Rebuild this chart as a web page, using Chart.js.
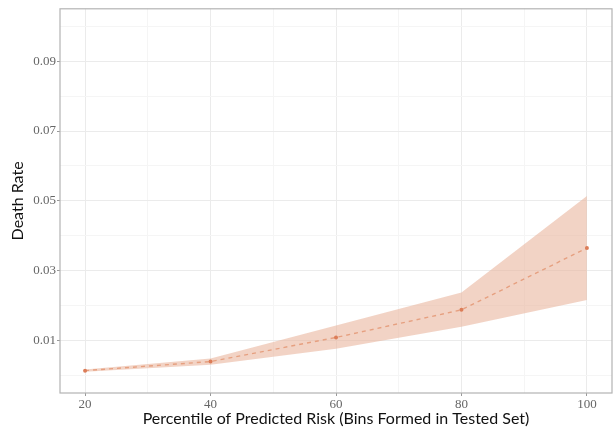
<!DOCTYPE html>
<html>
<head>
<meta charset="utf-8">
<script src="https://cdn.jsdelivr.net/npm/chart.js@4"></script>
<style>
  html, body { margin: 0; padding: 0; background: #fff; }
  #wrap { width: 616px; height: 428px; }
</style>
</head>
<body>
<div id="wrap"><canvas id="riskChart"></canvas></div>
<script>
const percentiles = [20, 40, 60, 80, 100];
const deathRate = [0.0014, 0.0040, 0.0109, 0.0188, 0.0365];
const upperCI = [0.0017, 0.0049, 0.0143, 0.0238, 0.0514];
const lowerCI = [0.0011, 0.0031, 0.0077, 0.0140, 0.0216];
const xTicks = [20, 30, 40, 50, 60, 70, 80, 90, 100];
const yTicks = [0, 0.01, 0.02, 0.03, 0.04, 0.05, 0.06, 0.07, 0.08, 0.09, 0.1];

const toPoints = vals => percentiles.map((p, i) => ({ x: p, y: vals[i] }));

const tickFont = { family: 'Liberation Serif', size: 13 };
const titleFont = { family: 'Lato', size: 16 };

// panel border all round the plot area
const frame = {
  id: 'frame',
  afterDraw(chart) {
    const { ctx, chartArea: a } = chart;
    ctx.save();
    ctx.strokeStyle = '#b3b3b3';
    ctx.lineWidth = 1.2;
    ctx.strokeRect(a.left, a.top, a.right - a.left, a.bottom - a.top);
    ctx.restore();
  }
};

const isMajorY = v => Math.round(v * 100) % 2 === 1;
const isMajorX = v => v % 20 === 0;

new Chart(document.getElementById('riskChart'), {
  type: 'scatter',
  data: {
    datasets: [
      {
        data: toPoints(deathRate),
        showLine: true,
        borderColor: '#e6a080',
        borderWidth: 1.4,
        borderDash: [4, 4],
        pointRadius: 2,
        pointBackgroundColor: '#dc7d58',
        pointBorderWidth: 0,
        fill: false
      },
      {
        data: toPoints(upperCI),
        showLine: true,
        borderWidth: 0,
        pointRadius: 0,
        backgroundColor: 'rgba(232, 180, 155, 0.58)',
        fill: '+1'
      },
      {
        data: toPoints(lowerCI),
        showLine: true,
        borderWidth: 0,
        pointRadius: 0,
        fill: false
      }
    ]
  },
  options: {
    responsive: true,
    maintainAspectRatio: false,
    animation: false,
    layout: { padding: { top: 8, right: 2, left: 0, bottom: 0 } },
    plugins: { legend: { display: false }, tooltip: { enabled: false } },
    scales: {
      x: {
        type: 'linear',
        min: 16,
        max: 104,
        afterBuildTicks: s => { s.ticks = xTicks.map(v => ({ value: v })); },
        afterFit: s => { s.height = 35; s.paddingLeft = 0; s.paddingRight = 0; },
        ticks: {
          font: tickFont,
          color: '#666',
          padding: 1,
          maxRotation: 0,
          callback: v => isMajorX(v) ? String(v) : ''
        },
        grid: {
          color: c => isMajorX(c.tick.value) ? '#ebebeb' : '#f5f5f5',
          tickColor: c => isMajorX(c.tick.value) ? '#999' : 'rgba(0,0,0,0)',
          tickLength: 3
        },
        border: { display: false },
        title: {
          display: true,
          text: 'Percentile of Predicted Risk (Bins Formed in Tested Set)',
          font: titleFont,
          color: '#111',
          padding: { top: 0, bottom: 0 }
        }
      },
      y: {
        min: -0.005,
        max: 0.105,
        afterBuildTicks: s => { s.ticks = yTicks.map(v => ({ value: v })); },
        afterFit: s => { s.width = 60; },
        ticks: {
          font: tickFont,
          color: '#666',
          padding: 1,
          callback: v => isMajorY(v) ? v.toFixed(2) : ''
        },
        grid: {
          color: c => isMajorY(c.tick.value) ? '#ebebeb' : '#f5f5f5',
          tickColor: c => isMajorY(c.tick.value) ? '#999' : 'rgba(0,0,0,0)',
          tickLength: 3
        },
        border: { display: false },
        title: {
          display: true,
          text: 'Death Rate',
          font: titleFont,
          color: '#111',
          padding: { top: 8, bottom: 0 }
        }
      }
    }
  },
  plugins: [frame]
});
</script>
</body>
</html>
